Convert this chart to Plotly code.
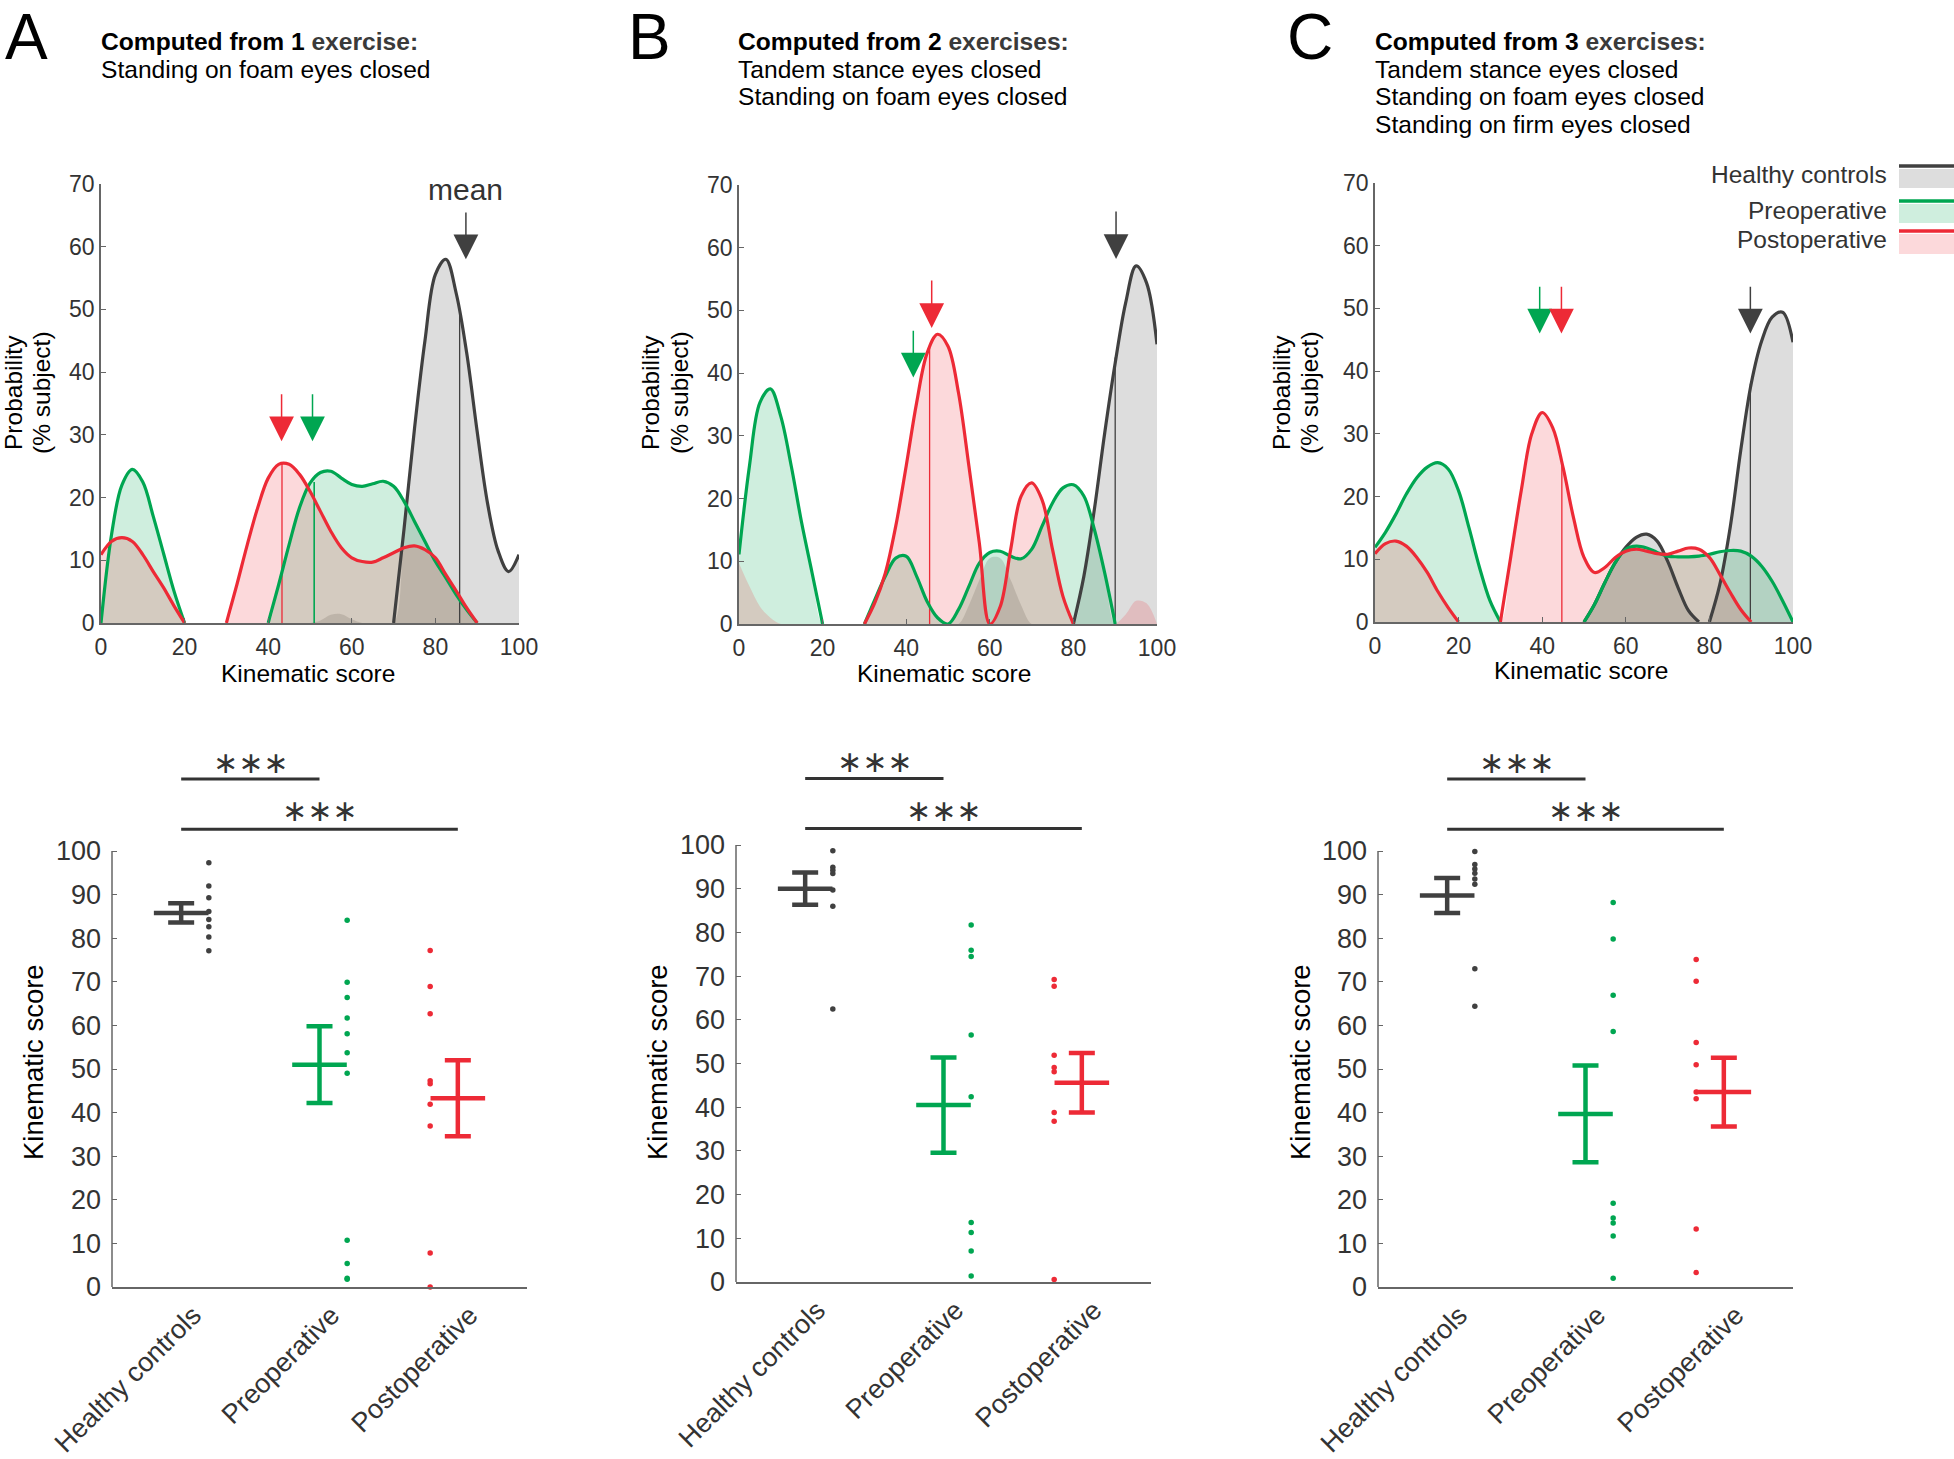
import plotly.graph_objects as go

W, H = 1954, 1459

# ---------------- data ----------------
score_grid = [0, 2.5, 5, 7.5, 10, 12.5, 15, 17.5, 20, 22.5, 25, 27.5, 30, 32.5, 35, 37.5, 40,
              42.5, 45, 47.5, 50, 52.5, 55, 57.5, 60, 62.5, 65, 67.5, 70, 72.5, 75, 77.5, 80,
              82.5, 85, 87.5, 90, 92.5, 95, 97.5, 100]

groups = ["Healthy controls", "Preoperative", "Postoperative"]

# probability (% subject) on score_grid, panel A
dens_A_hc = [0, 0, 0, 0, 0, 0, 0, 0, 0, 0, 0, 0, 0, 0, 0, 0, 0, 0, 0, 0, 0,
             0.4, 1.3, 1.4, 0.6, 0, 0, 0, 0, 15, 31, 45, 55.6, 58, 52.5, 43, 30.5, 19, 11.5, 8.2, 10.9]
dens_A_pre = [0, 14, 22, 24.5, 22.5, 17, 11, 5, 0, 0, 0, 0, 0, 0, 0, 0, 0,
              6.1, 12.5, 18.4, 22.3, 24, 24.2, 23.1, 22.1, 21.8, 22.2, 22.6, 21.8, 19.4, 16.2, 13, 9.8,
              7.2, 4.5, 2.1, 0, 0, 0, 0, 0]
dens_A_post = [10.9, 13, 13.6, 13, 10.9, 8.2, 5.6, 2.7, 0, 0, 0, 0, 0,
               6.1, 12.5, 18.4, 23.1, 25.3, 25.3, 23.7, 21, 17.8, 14.6, 12, 10.4, 9.8, 9.7, 10.4, 11.2,
               12, 12.3, 11.7, 10.4, 7.7, 5.1, 2.4, 0, 0, 0, 0, 0]
# panel B
dens_B_hc = [0, 0, 0, 0, 0, 0, 0, 0, 0, 0, 0, 0, 0, 0, 0, 0, 0, 0, 0, 0, 0,
             0, 3, 7, 10.5, 10.5, 7, 3, 0, 0, 0, 0, 0, 7.6, 18.2, 30.5, 41.6, 51.2, 57.1, 54.4, 44.6]
dens_B_pre = [11.1, 25.2, 35.3, 37.5, 33.1, 25.2, 16.1, 8.1, 0, 0, 0, 0,
              0, 3.9, 7.6, 10.5, 10.8, 7.6, 3.6, 1, 0, 2.3, 6, 9.7, 11.4, 11.6, 10.8, 10.4, 11.9,
              15.6, 19.3, 21.7, 22.2, 20.4, 15.1, 8.1, 0, 0, 0, 0, 0]
dens_B_post = [9.7, 6, 2.8, 1, 0, 0, 0, 0, 0, 0, 0, 0,
               0, 3.4, 8.1, 15.6, 25.2, 35.3, 43.2, 46.2, 44.3, 36.9, 25.2, 12.9, 0, 2.8, 11.9, 20.4,
               22.5, 19.8, 11.9, 4.4, 0, 0, 0, 0, 0, 1.5, 3.7, 3.3, 0]
# panel C
dens_C_hc = [0, 0, 0, 0, 0, 0, 0, 0, 0, 0, 0, 0, 0, 0, 0, 0, 0, 0, 0, 0, 0,
             2.8, 6.3, 9.5, 11.9, 13.5, 14, 12.9, 9.7, 5.5, 1.8, 0, 0, 6, 15.2, 27.4, 38, 44.8, 48.6, 49.4, 44.6]
dens_C_pre = [11.9, 14.3, 17.2, 20.4, 23, 24.7, 25.4, 24.4, 20.9, 15, 8.7, 3.4, 0,
              0, 0, 0, 0, 0, 0, 0, 0,
              2.8, 6.3, 9.5, 11.6, 12.1, 11.8, 11.1, 10.5, 10.4, 10.4, 10.5, 10.8, 11.2, 11.4, 11.3,
              10.5, 8.9, 6.5, 3.4, 0]
dens_C_post = [10.9, 12.5, 12.9, 12.1, 10.3, 7.9, 4.9, 2.3, 0, 0, 0, 0,
               0, 10.5, 21, 30, 33.4, 31, 24.6, 16.6, 10.3, 7.9, 8.7, 10.3, 11.3, 11.6, 11.3, 10.9,
               10.8, 11.3, 11.8, 11.6, 10.3, 7.6, 4.7, 2, 0, 0, 0, 0, 0]

# score intervals where the density outline is drawn
outline_A = [[(70, 100)], [(0, 20), (40, 90)], [(0, 20), (30, 90)]]
outline_B = [[(80, 100)], [(0, 20), (30, 90)], [(30, 80)]]
outline_C = [[(50, 77.5), (80, 100)], [(0, 30), (50, 100)], [(0, 20), (30, 90)]]

# individual kinematic scores
A_hc = [97.3, 92.0, 89.3, 86.1, 84.3, 82.6, 80.3, 77.1]
A_pre = [84.1, 69.9, 66.4, 61.7, 58.1, 53.7, 49.0, 10.7, 5.4, 2.0, 1.8]
A_post = [77.2, 68.9, 62.7, 47.3, 46.6, 41.9, 36.9, 7.8, 0.0]
B_hc = [98.7, 94.9, 94.2, 93.5, 89.7, 86.0, 62.5]
B_pre = [81.7, 75.9, 74.5, 56.5, 42.4, 13.6, 11.3, 7.1, 1.4]
B_post = [69.2, 67.7, 51.9, 49.1, 48.1, 38.8, 36.8, 0.6]
C_hc = [99.9, 96.9, 95.9, 94.9, 93.6, 92.4, 73.0, 64.4]
C_pre = [88.2, 79.8, 66.9, 58.6, 19.2, 15.8, 14.7, 11.7, 2.0]
C_post = [75.1, 70.1, 56.1, 51.0, 44.7, 43.2, 13.3, 3.3]

# group means and SEM
A_mean = [85.8, 51.0, 43.3]
A_sem = [2.2, 8.8, 8.7]
B_mean = [90.0, 40.5, 45.6]
B_sem = [3.7, 10.9, 6.8]
C_mean = [89.8, 39.7, 44.7]
C_sem = [4.0, 11.1, 7.9]

# height of mean marker line in the density plot (None = not drawn)
A_mean_top = [50.0, 22.5, 25.4]
B_mean_top = [42.5, None, 44.0]
C_mean_top = [38.0, None, 25.3]

# mean arrows: x position and (tail, tip)
A_arrow_x = [87.3, 50.6, 43.2]
B_arrow_x = [90.2, 41.7, 46.1]
C_arrow_x = [89.8, 39.4, 44.6]
A_arrow_y = [(65.7, 58), (36.7, 29), (36.7, 29)]
B_arrow_y = [(66, 58.2), (47, 39.3), (55, 47.2)]
C_arrow_y = [(53.7, 46), (53.7, 46), (53.7, 46)]

cat_pos = [1, 2, 3]
dot_offset = [0.2, 0.2, -0.2]

titles_A = ["Standing on foam eyes closed"]
titles_B = ["Tandem stance eyes closed", "Standing on foam eyes closed"]
titles_C = ["Tandem stance eyes closed", "Standing on foam eyes closed", "Standing on firm eyes closed"]

# ---------------- style ----------------
line_colors = ["#404040", "#00a651", "#ed2a36"]
fill_colors = ["rgba(64,64,64,0.18)", "rgba(0,166,81,0.19)", "rgba(237,42,54,0.18)"]
FONT = "Liberation Sans, Arial, sans-serif"
TXT = "#333333"
AX = "#666666"


def PX(x):
    return x / W


def PY(y):
    return 1 - y / H


panels = [
    dict(letter="A", n="1", ex="exercise:", titles=titles_A,
         dens=[dens_A_hc, dens_A_pre, dens_A_post], outline=outline_A,
         scores=[A_hc, A_pre, A_post], mean=A_mean, sem=A_sem, mtop=A_mean_top,
         ax_x=A_arrow_x, ax_y=A_arrow_y,
         top=dict(x=(101, 519), y=(623, 184)), bot=dict(x=(112, 527), y0=1287, unit=4.36),
         letter_x=4, title_x=99, sig_y=(116.5, 105), star_y=(120.4, 109.2),
         prob_x=(13, 41), ks_top=(308, 673), ks_bot_x=33),
    dict(letter="B", n="2", ex="exercises:", titles=titles_B,
         dens=[dens_B_hc, dens_B_pre, dens_B_post], outline=outline_B,
         scores=[B_hc, B_pre, B_post], mean=B_mean, sem=B_sem, mtop=B_mean_top,
         ax_x=B_arrow_x, ax_y=B_arrow_y,
         top=dict(x=(739, 1157), y=(624, 185)), bot=dict(x=(736, 1151), y0=1282, unit=4.37),
         letter_x=627, title_x=736, sig_y=(115.2, 103.8), star_y=(119.0, 107.8),
         prob_x=(650, 679), ks_top=(944, 673), ks_bot_x=657),
    dict(letter="C", n="3", ex="exercises:", titles=titles_C,
         dens=[dens_C_hc, dens_C_pre, dens_C_post], outline=outline_C,
         scores=[C_hc, C_pre, C_post], mean=C_mean, sem=C_sem, mtop=C_mean_top,
         ax_x=C_arrow_x, ax_y=C_arrow_y,
         top=dict(x=(1375, 1793), y=(622, 183)), bot=dict(x=(1378, 1793), y0=1287, unit=4.36),
         letter_x=1286, title_x=1373, sig_y=(116.5, 105), star_y=(120.4, 109.2),
         prob_x=(1281, 1309), ks_top=(1581, 670), ks_bot_x=1300),
]

fig = go.Figure()
annotations = []
shapes = []
layout_axes = {}

for pi, P in enumerate(panels):
    tx = "x" if pi == 0 else f"x{pi + 1}"
    ty = "y" if pi == 0 else f"y{pi + 1}"
    bx = f"x{pi + 4}"
    by = f"y{pi + 4}"
    tkey = "" if pi == 0 else str(pi + 1)
    bkey = str(pi + 4)

    # ---- density fills ----
    for g in range(3):
        fig.add_trace(go.Scatter(
            x=score_grid, y=P["dens"][g], mode="lines", fill="tozeroy",
            fillcolor=fill_colors[g], line=dict(width=0, shape="spline", smoothing=1.0),
            xaxis=tx, yaxis=ty, showlegend=False, hoverinfo="skip"))
    # ---- mean marker lines ----
    for g in range(3):
        if P["mtop"][g] is None:
            continue
        fig.add_trace(go.Scatter(
            x=[P["mean"][g], P["mean"][g]], y=[0, P["mtop"][g]], mode="lines",
            line=dict(width=1.6 if g == 1 else 1.3, color=line_colors[g]),
            xaxis=tx, yaxis=ty, showlegend=False, hoverinfo="skip"))
    # ---- density outlines ----
    for g in range(3):
        for lo, hi in P["outline"][g]:
            xs = [s for s in score_grid if lo <= s <= hi]
            ys = [v for s, v in zip(score_grid, P["dens"][g]) if lo <= s <= hi]
            fig.add_trace(go.Scatter(
                x=xs, y=ys, mode="lines",
                line=dict(width=3.2, color=line_colors[g], shape="spline", smoothing=1.0),
                xaxis=tx, yaxis=ty, showlegend=False, hoverinfo="skip"))
    # ---- arrows ----
    for g in range(3):
        tail, tip = P["ax_y"][g]
        annotations.append(dict(
            x=P["ax_x"][g], y=tip, ax=P["ax_x"][g], ay=tail, xref=tx, yref=ty,
            axref=tx, ayref=ty, text="", showarrow=True, arrowhead=2, arrowsize=3.3,
            arrowwidth=1.5, arrowcolor=line_colors[g], standoff=0))
    if pi == 0:
        annotations.append(dict(x=P["ax_x"][0], y=69.2, xref=tx, yref=ty, text="mean",
                                showarrow=False, xanchor="center", yanchor="middle",
                                font=dict(family=FONT, size=30, color=TXT)))

    # ---- top axes ----
    t = P["top"]
    layout_axes["xaxis" + tkey] = dict(
        domain=[PX(t["x"][0]), PX(t["x"][1])], range=[0, 100], anchor=ty,
        tickvals=[0, 20, 40, 60, 80, 100], ticks="inside", ticklen=5, tickwidth=1.2,
        tickcolor=AX, showline=True, linecolor=AX, linewidth=1.5, showgrid=False,
        zeroline=False, tickfont=dict(family=FONT, size=23, color=TXT), ticklabelstandoff=3)
    layout_axes["yaxis" + tkey] = dict(
        domain=[PY(t["y"][0]), PY(t["y"][1])], range=[0, 70], anchor=tx,
        tickvals=[0, 10, 20, 30, 40, 50, 60, 70], ticks="inside", ticklen=5, tickwidth=1.2,
        tickcolor=AX, showline=True, linecolor=AX, linewidth=1.5, showgrid=False,
        zeroline=False, tickfont=dict(family=FONT, size=23, color=TXT))

    # ---- bottom: individual scores, mean +/- SEM ----
    for g in range(3):
        fig.add_trace(go.Scatter(
            x=[cat_pos[g] + dot_offset[g]] * len(P["scores"][g]), y=P["scores"][g],
            mode="markers", marker=dict(size=5.5, color=line_colors[g]),
            cliponaxis=False, xaxis=bx, yaxis=by, showlegend=False, hoverinfo="skip"))
        fig.add_trace(go.Scatter(
            x=[cat_pos[g]], y=[P["mean"][g]], mode="markers",
            marker=dict(symbol="line-ew", size=39, line=dict(width=4.5, color=line_colors[g])),
            error_y=dict(type="data", array=[P["sem"][g]], thickness=4.5, width=13,
                         color=line_colors[g]),
            xaxis=bx, yaxis=by, showlegend=False, hoverinfo="skip"))

    b = P["bot"]
    ytop_px = b["y0"] - 125 * b["unit"]
    layout_axes["xaxis" + bkey] = dict(
        domain=[PX(b["x"][0]), PX(b["x"][1])], range=[0.5, 3.5], anchor=by,
        tickvals=cat_pos, ticktext=groups, tickangle=-45, ticks="",
        showline=True, linecolor=AX, linewidth=1.5, showgrid=False, zeroline=False,
        ticklabelshift=12,
        tickfont=dict(family=FONT, size=27, color=TXT))
    layout_axes["yaxis" + bkey] = dict(
        domain=[PY(b["y0"]), PY(ytop_px)], range=[0, 125], anchor=bx,
        tickvals=[0, 10, 20, 30, 40, 50, 60, 70, 80, 90, 100], ticks="inside", ticklen=5,
        tickwidth=1.2, tickcolor=AX, showline=False, showgrid=False, zeroline=False,
        ticklabelstandoff=10,
        tickfont=dict(family=FONT, size=27, color=TXT))
    # y axis line (0-100 only)
    shapes.append(dict(type="line", xref=bx + " domain", yref=by, x0=0, x1=0, y0=0, y1=100,
                       line=dict(color=AX, width=1.5)))
    # significance bars
    for (c0, c1), yb, ys in zip([(1, 2), (1, 3)], P["sig_y"], P["star_y"]):
        shapes.append(dict(type="line", xref=bx, yref=by, x0=c0, x1=c1, y0=yb, y1=yb,
                           line=dict(color="#333333", width=3)))
        annotations.append(dict(x=(c0 + c1) / 2, y=ys, xref=bx, yref=by, text="∗∗∗",
                                showarrow=False, xanchor="center", yanchor="middle",
                                font=dict(family="DejaVu Sans", size=30, color="#333333")))

    # ---- texts ----
    annotations.append(dict(x=PX(P["letter_x"]), y=PY(0), xref="paper", yref="paper",
                            text=P["letter"], showarrow=False, xanchor="left", yanchor="top",
                            borderpad=0,
                            font=dict(family=FONT, size=64, color="#000000")))
    annotations.append(dict(
        x=PX(P["title_x"]), y=PY(41.5), xref="paper", yref="paper",
        text=f"<b>Computed from {P['n']} <span style='color:#3a3a3a'>{P['ex']}</span></b>",
        showarrow=False, xanchor="left", yanchor="middle",
        font=dict(family=FONT, size=24.6, color="#000000")))
    for li, line in enumerate(P["titles"]):
        annotations.append(dict(x=PX(P["title_x"]), y=PY(69 + 27.5 * li), xref="paper",
                                yref="paper", text=line, showarrow=False, xanchor="left",
                                yanchor="middle", font=dict(family=FONT, size=24.6, color="#000000")))
    for txt, xx in zip(["Probability", "(% subject)"], P["prob_x"]):
        annotations.append(dict(x=PX(xx), y=PY(393), xref="paper", yref="paper", text=txt,
                                textangle=-90, showarrow=False, xanchor="center",
                                yanchor="middle", font=dict(family=FONT, size=24.5, color="#000000")))
    annotations.append(dict(x=PX(P["ks_top"][0]), y=PY(P["ks_top"][1]), xref="paper",
                            yref="paper", text="Kinematic score", showarrow=False,
                            xanchor="center", yanchor="middle",
                            font=dict(family=FONT, size=24.5, color="#000000")))
    annotations.append(dict(x=PX(P["ks_bot_x"]), y=PY(1062), xref="paper", yref="paper",
                            text="Kinematic score", textangle=-90, showarrow=False,
                            xanchor="center", yanchor="middle",
                            font=dict(family=FONT, size=27.5, color="#000000")))

# ---- legend (panel C) ----
leg_line_y = [166, 201, 231]
leg_rect = [(169, 188), (204, 223), (234, 254)]
leg_text_y = [175, 210, 240]
for g in range(3):
    shapes.append(dict(type="rect", xref="paper", yref="paper", x0=PX(1899), x1=PX(1954),
                       y0=PY(leg_rect[g][1]), y1=PY(leg_rect[g][0]),
                       fillcolor=fill_colors[g], line=dict(width=0)))
    shapes.append(dict(type="line", xref="paper", yref="paper", x0=PX(1899), x1=PX(1954),
                       y0=PY(leg_line_y[g]), y1=PY(leg_line_y[g]),
                       line=dict(color=line_colors[g], width=3.5)))
    annotations.append(dict(x=PX(1889), y=PY(leg_text_y[g]), xref="paper", yref="paper",
                            text=groups[g], showarrow=False, xanchor="right", yanchor="middle",
                            font=dict(family=FONT, size=24.5, color=TXT)))

fig.update_layout(
    width=W, height=H, margin=dict(l=0, r=0, t=0, b=0),
    template="none", paper_bgcolor="white", plot_bgcolor="white",
    showlegend=False, annotations=annotations, shapes=shapes,
    font=dict(family=FONT, color=TXT), **layout_axes)

fig.write_html("out.html",
               config={"displayModeBar": False},
               post_script="document.body.style.margin='0px';"
                           "document.body.style.overflow='hidden';")
